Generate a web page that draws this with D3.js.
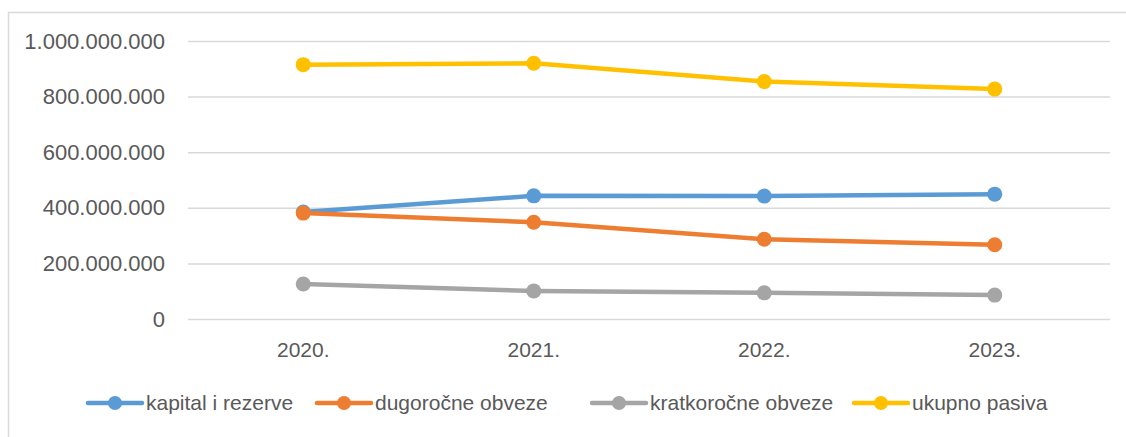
<!DOCTYPE html>
<html>
<head>
<meta charset="utf-8">
<script src="https://cdn.jsdelivr.net/npm/d3@7"></script>
<style>
  body { margin: 0; background: #fff; }
  svg { display: block; font-family: "Liberation Sans", "DejaVu Sans", sans-serif; }
</style>
</head>
<body>
<svg id="chart" width="1126" height="437"></svg>
<script>
// data
const years = ["2020.", "2021.", "2022.", "2023."];
const kapital = [385e6, 443e6, 442e6, 449e6];
const dugorocne = [381e6, 348e6, 287e6, 267e6];
const kratkorocne = [126e6, 101e6, 94e6, 86e6];
const ukupno = [915e6, 920e6, 854e6, 827e6];
const yTicks = [0, 200e6, 400e6, 600e6, 800e6, 1000e6];

const series = [
  {name: "kapital i rezerve", values: kapital, color: "#5B9BD5"},
  {name: "dugoročne obveze", values: dugorocne, color: "#ED7D31"},
  {name: "kratkoročne obveze", values: kratkorocne, color: "#A5A5A5"},
  {name: "ukupno pasiva", values: ukupno, color: "#FFC000"}
];

const svg = d3.select("#chart");
const margin = {top: 41, right: 16, bottom: 118, left: 188};
const width = 1126, height = 437;

// chart border
svg.append("rect")
  .attr("x", 8.5).attr("y", 12.5)
  .attr("width", 1130).attr("height", 440)
  .attr("fill", "none")
  .attr("stroke", "#d9d9d9")
  .attr("stroke-width", 1.5);

const x = d3.scaleBand()
  .domain(years)
  .range([margin.left, width - margin.right]);

const y = d3.scaleLinear()
  .domain([0, 1e9])
  .range([height - margin.bottom, margin.top]);

const fmt = v => d3.format(",")(v).replace(/,/g, ".");

// gridlines + y labels
const yAxis = g => g
  .attr("transform", `translate(${margin.left},0)`)
  .call(d3.axisLeft(y).tickValues(yTicks).tickFormat(fmt).tickSize(0).tickPadding(23))
  .call(g => g.select(".domain").remove())
  .call(g => g.selectAll(".tick line").clone()
    .attr("x2", width - margin.right - margin.left)
    .attr("stroke", "#d9d9d9")
    .attr("stroke-width", 1.5))
  .call(g => g.selectAll(".tick text")
    .attr("fill", "#595959")
    .attr("font-size", 22));

svg.append("g").call(yAxis);

// x labels
const xAxis = g => g
  .attr("transform", `translate(0,${height - margin.bottom})`)
  .call(d3.axisBottom(x).tickSize(0).tickPadding(23))
  .call(g => g.select(".domain").remove())
  .call(g => g.selectAll(".tick text")
    .attr("fill", "#595959")
    .attr("font-size", 21));

svg.append("g").call(xAxis);

const cx = i => x(years[i]) + x.bandwidth() / 2;

const line = d3.line()
  .x((d, i) => cx(i))
  .y(d => y(d));

series.forEach(s => {
  svg.append("path")
    .datum(s.values)
    .attr("d", line)
    .attr("fill", "none")
    .attr("stroke", s.color)
    .attr("stroke-width", 4.5)
    .attr("stroke-linejoin", "round")
    .attr("stroke-linecap", "round");

  svg.append("g")
    .selectAll("circle")
    .data(s.values)
    .enter().append("circle")
    .attr("cx", (d, i) => cx(i))
    .attr("cy", d => y(d))
    .attr("r", 7.5)
    .attr("fill", s.color);
});

// legend
const legendX = [88, 317, 592, 854];
const legend = svg.append("g").attr("transform", "translate(0,403)");
series.forEach((s, i) => {
  const g = legend.append("g").attr("transform", `translate(${legendX[i]},0)`);
  g.append("line")
    .attr("x1", 0).attr("x2", 54)
    .attr("stroke", s.color)
    .attr("stroke-width", 4.5)
    .attr("stroke-linecap", "round");
  g.append("circle")
    .attr("cx", 27).attr("r", 7)
    .attr("fill", s.color);
  g.append("text")
    .attr("x", 58)
    .attr("dy", "0.35em")
    .attr("fill", "#595959")
    .attr("font-size", 21)
    .text(s.name);
});
</script>
</body>
</html>
